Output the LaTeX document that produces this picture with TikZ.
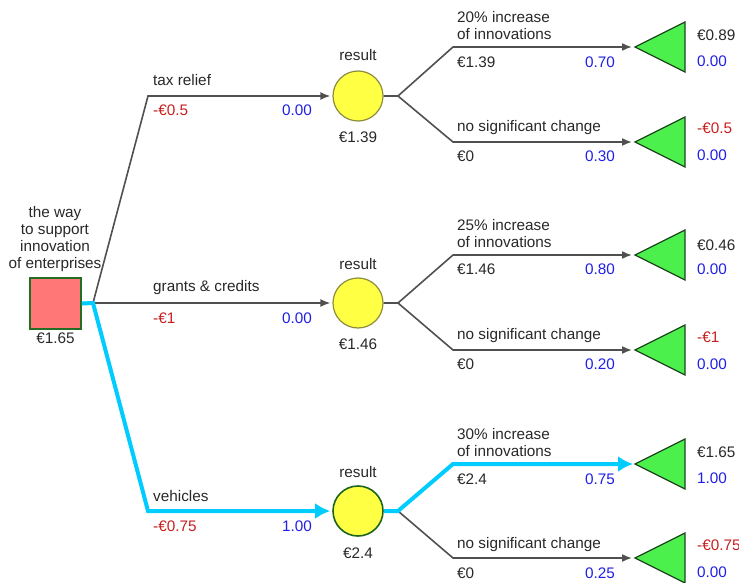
\documentclass[tikz,border=0pt]{standalone}
\usepackage{fontspec}
\setmainfont{Liberation Sans}
\usetikzlibrary{arrows.meta}

\definecolor{edgegrey}{RGB}{80,80,80}
\definecolor{bestcyan}{RGB}{0,204,255}
\definecolor{costred}{RGB}{200,30,30}
\definecolor{probblue}{RGB}{30,30,230}
\definecolor{txtgrey}{RGB}{40,40,40}
\definecolor{decfill}{RGB}{255,119,119}
\definecolor{decline}{RGB}{34,110,34}
\definecolor{chfill}{RGB}{255,255,68}
\definecolor{chline}{RGB}{140,140,60}
\definecolor{chbest}{RGB}{30,100,30}
\definecolor{leaffill}{RGB}{76,240,76}
\definecolor{leafline}{RGB}{30,70,30}

\tikzset{
  lbl/.style={inner sep=0pt, font=\fontsize{15.3}{16.7}\selectfont, text=txtgrey},
  costlbl/.style={lbl, text=costred},
  problbl/.style={lbl, text=probblue},
  branch/.style={draw=edgegrey, line width=1.6pt, line join=miter},
  branchto/.style={branch, -{Latex[length=10pt,width=8pt]}},
  bestto/.style={draw=bestcyan, line width=4pt, line join=miter, -{Latex[length=15pt,width=16pt]}},
  decision/.style={rectangle, minimum size=51pt, inner sep=0pt, fill=decfill, draw=decline, line width=1.6pt},
  chance/.style={circle, minimum size=50pt, inner sep=0pt, fill=chfill, draw=chline, line width=1.2pt},
  chancebest/.style={chance, draw=chbest, line width=1.6pt},
  leaf/.style={fill=leaffill, draw=leafline, line width=1.3pt, line join=miter},
}

\begin{document}
\begin{tikzpicture}[x=1pt, y=-1pt]
\useasboundingbox (0,0) rectangle (739,583);

% decision node
\node[decision] (dec) at (55.5,303.5) {};
\node[lbl, align=center] (dectitle) at (55,239) {the way\\to support\\innovation\\of enterprises};
\node[lbl] (decval) at (55.5,338) {€1.65};

\coordinate (jd) at (93,303);
\coordinate (k1) at (148,96);
\coordinate (k3) at (148,511);

% chance nodes
\node[chance] (c1) at (358,96) {};
\node[chance] (c2) at (358,303) {};
\node[chancebest] (c3) at (358,511) {};
\node[lbl] (c1t) at (358,55) {result};
\node[lbl] (c1v) at (358,137) {€1.39};
\node[lbl] (c2t) at (358,264) {result};
\node[lbl] (c2v) at (358,344) {€1.46};
\node[lbl] (c3t) at (358,472) {result};
\node[lbl] (c3v) at (358,553) {€2.4};

% junctions and corners behind the chance nodes
\coordinate (j1) at (398,96);
\coordinate (u1) at (453,47);
\coordinate (d1) at (453,142);
\coordinate (j2) at (398,303);
\coordinate (u2) at (453,255);
\coordinate (d2) at (453,350);
\coordinate (j3) at (398,511);
\coordinate (u3) at (453,464);
\coordinate (d3) at (453,558);

% leaf tips
\coordinate (L1u) at (635,47);
\coordinate (L1d) at (635,142);
\coordinate (L2u) at (635,255);
\coordinate (L2d) at (635,350);
\coordinate (L3u) at (635,464);
\coordinate (L3d) at (635,558);

% leaves (triangles pointing left)
\foreach \t in {L1u,L1d,L2u,L2d,L3u,L3d}
  \draw[leaf] (\t) -- ++(50,-25) -- ++(0,50) -- cycle;

% first-level branches
\draw[branchto] (jd) -- (k1) -- ([xshift=-2pt]c1.west);
\draw[branchto] (jd) -- ([xshift=-2pt]c2.west);

% second-level branches
\draw[branchto] (c1.east) -- (j1) -- (u1) -- ([xshift=-3pt]L1u);
\draw[branchto] (j1) -- (d1) -- ([xshift=-3pt]L1d);
\draw[branchto] (c2.east) -- (j2) -- (u2) -- ([xshift=-3pt]L2u);
\draw[branchto] (j2) -- (d2) -- ([xshift=-3pt]L2d);
\draw[branchto] (j3) -- (d3) -- ([xshift=-3pt]L3d);

% optimal path
\draw[bestto] (dec.east) -- (jd) -- (k3) -- ([xshift=-2pt]c3.west);
\draw[bestto] (c3.east) -- (j3) -- (u3) -- ([xshift=-2pt]L3u);

% first-level labels
\node[lbl, anchor=west] (b1n) at (153,80) {tax relief};
\node[costlbl, anchor=west] (b1c) at (153,110) {-€0.5};
\node[problbl, anchor=east] (b1p) at (312,110) {0.00};
\node[lbl, anchor=west] (b2n) at (153,288) {grants \& credits};
\node[costlbl, anchor=west] (b2c) at (153,318) {-€1};
\node[problbl, anchor=east] (b2p) at (312,318) {0.00};
\node[lbl, anchor=west] (b3n) at (153,496) {vehicles};
\node[costlbl, anchor=west] (b3c) at (153,526) {-€0.75};
\node[problbl, anchor=east] (b3p) at (312,526) {1.00};

% second-level labels
\node[lbl, anchor=south west, align=left] (e1n) at (457,40) {20\% increase\\of innovations};
\node[lbl, anchor=west] (e1c) at (457,62) {€1.39};
\node[problbl, anchor=east] (e1p) at (615,62) {0.70};
\node[lbl, anchor=west] (e2n) at (457,128) {no significant change};
\node[lbl, anchor=west] (e2c) at (457,156) {€0};
\node[problbl, anchor=east] (e2p) at (615,156) {0.30};

\node[lbl, anchor=south west, align=left] (e3n) at (457,248) {25\% increase\\of innovations};
\node[lbl, anchor=west] (e3c) at (457,269) {€1.46};
\node[problbl, anchor=east] (e3p) at (615,269) {0.80};
\node[lbl, anchor=west] (e4n) at (457,336) {no significant change};
\node[lbl, anchor=west] (e4c) at (457,364) {€0};
\node[problbl, anchor=east] (e4p) at (615,364) {0.20};

\node[lbl, anchor=south west, align=left] (e5n) at (457,457) {30\% increase\\of innovations};
\node[lbl, anchor=west] (e5c) at (457,479) {€2.4};
\node[problbl, anchor=east] (e5p) at (615,479) {0.75};
\node[lbl, anchor=west] (e6n) at (457,545) {no significant change};
\node[lbl, anchor=west] (e6c) at (457,573) {€0};
\node[problbl, anchor=east] (e6p) at (615,573) {0.25};

% leaf values
\node[lbl, anchor=west] (v1) at (697,35) {€0.89};
\node[problbl, anchor=west] (p1) at (697,61) {0.00};
\node[costlbl, anchor=west] (v2) at (697,128) {-€0.5};
\node[problbl, anchor=west] (p2) at (697,155) {0.00};
\node[lbl, anchor=west] (v3) at (697,245) {€0.46};
\node[problbl, anchor=west] (p3) at (697,269) {0.00};
\node[costlbl, anchor=west] (v4) at (697,337) {-€1};
\node[problbl, anchor=west] (p4) at (697,364) {0.00};
\node[lbl, anchor=west] (v5) at (697,452) {€1.65};
\node[problbl, anchor=west] (p5) at (697,478) {1.00};
\node[costlbl, anchor=west] (v6) at (697,545) {-€0.75};
\node[problbl, anchor=west] (p6) at (697,572) {0.00};
\end{tikzpicture}
\end{document}
